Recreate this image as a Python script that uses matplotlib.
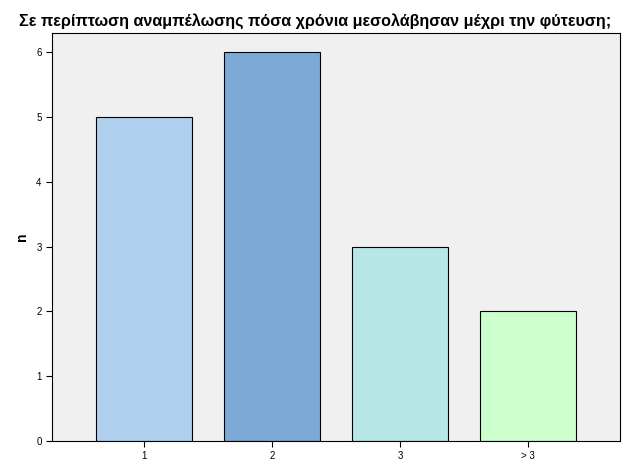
import matplotlib
matplotlib.use("Agg")
import matplotlib.pyplot as plt

plt.rcParams["font.family"] = ["Liberation Sans", "DejaVu Sans"]

# data
categories = ["1", "2", "3", "> 3"]
counts = [5, 6, 3, 2]
bar_colors = ["#AED0EE", "#7BAAD7", "#B6E6E6", "#CCFFCC"]
title = "Σε περίπτωση αναμπέλωσης πόσα χρόνια μεσολάβησαν μέχρι την φύτευση;"

fig = plt.figure(figsize=(6.25, 4.7), dpi=100)
ax = fig.add_axes([0.0832, 0.0617, 0.9088, 0.8681])
ax.set_facecolor("#F0F0F0")

x = list(range(len(categories)))
ax.bar(x, counts, width=0.75, color=bar_colors, edgecolor="black", linewidth=0.8)

ax.set_xlim(-0.72, len(categories) - 1 + 0.72)
ax.set_ylim(0, 6.3)
ax.set_xticks(x)
ax.set_xticklabels(categories)
ax.set_yticks(range(0, 7))
ax.tick_params(axis="both", labelsize=7, length=4, width=0.8, color="black")
ax.tick_params(axis="x", pad=3)

for side in ax.spines.values():
    side.set_linewidth(0.8)

ax.set_ylabel("n", fontsize=10, fontweight="bold", labelpad=5)
fig.text(0.504, 0.972, title, ha="center", va="top", fontsize=11.6, fontweight="bold")

fig.savefig("out.png", dpi=100)
